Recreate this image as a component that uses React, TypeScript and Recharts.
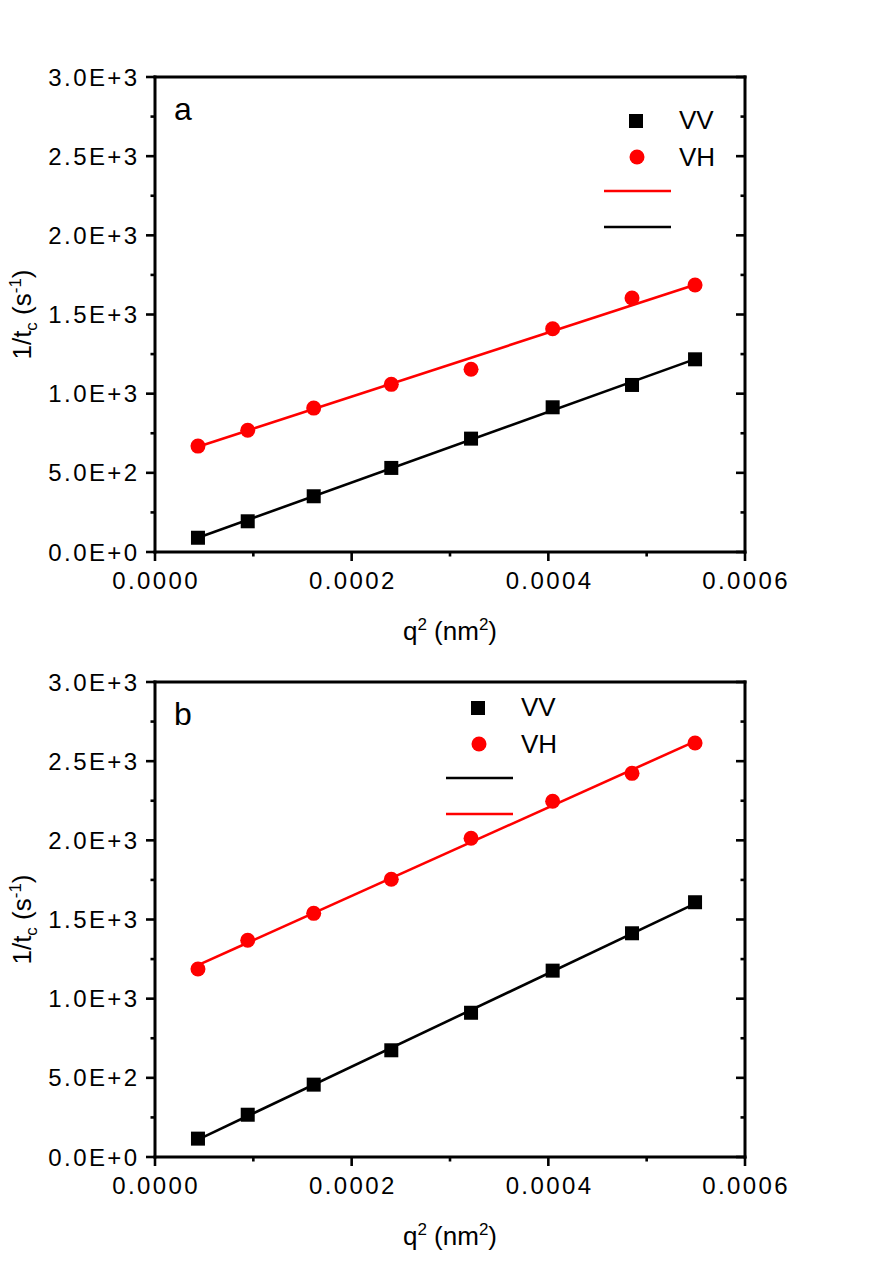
import React from 'react';
import { ComposedChart, XAxis, YAxis, Scatter, Line, Legend, Label } from 'recharts';

// ---- data ----
const qSquared = [4.37e-5, 9.43e-5, 1.614e-4, 2.403e-4, 3.214e-4, 4.044e-4, 4.851e-4, 5.492e-4];
const vvA = [90, 194, 352, 531, 716, 914, 1055, 1217];
const vhA = [669, 769, 909, 1059, 1154, 1410, 1604, 1686];
const vvB = [116, 267, 457, 674, 911, 1177, 1413, 1609];
const vhB = [1187, 1369, 1539, 1754, 2013, 2247, 2423, 2615];
const fitX = [4.37e-5, 5.492e-4];
const fitVvA = [90, 1218];
const fitVhA = [665, 1688];
const fitVvB = [110, 1600];
const fitVhB = [1212, 2625];
const xTicks = [0, 0.0001, 0.0002, 0.0003, 0.0004, 0.0005, 0.0006];
const yTicks = [0, 250, 500, 750, 1000, 1250, 1500, 1750, 2000, 2250, 2500, 2750, 3000];
const seriesNames = ['VV', 'VH'];

const FONT = '"Liberation Sans", Arial, sans-serif';
const RED = '#ff0000';
const BLACK = '#000000';

const toPoints = (xs: number[], ys: number[]) => xs.map((x, i) => ({ x, y: ys[i] }));

const isMajorX = (v: number) => Math.round(v / 0.0001) % 2 === 0;
const isMajorY = (v: number) => Math.round(v / 250) % 2 === 0;
const MAJOR = 9;
const MINOR = 4.5;
const TW = 2.6;

const BottomTick = (p: any) => {
  const { x, y, payload } = p;
  const major = isMajorX(payload.value);
  return (
    <g>
      <line x1={x} x2={x} y1={y} y2={y + (major ? MAJOR : MINOR)} stroke={BLACK} strokeWidth={TW} />
      {major && (
        <text x={x + 1.2} y={y + 37} textAnchor="middle" fontSize={24} fontFamily={FONT} letterSpacing={2.4} fill={BLACK} stroke="none">
          {Number(payload.value).toFixed(4)}
        </text>
      )}
    </g>
  );
};

// top axis has height 1, so its line sits at y + 1
const TopTick = (p: any) => {
  const { x, y, payload } = p;
  const major = isMajorX(payload.value);
  return <line x1={x} x2={x} y1={y} y2={y + (major ? MAJOR : MINOR)} stroke={BLACK} strokeWidth={TW} />;
};

const LeftTick = (p: any) => {
  const { x, y, payload } = p;
  const major = isMajorY(payload.value);
  return (
    <g>
      <line x1={x - (major ? MAJOR : MINOR)} x2={x} y1={y} y2={y} stroke={BLACK} strokeWidth={TW} />
      {major && (
        <text x={x - 15.5} y={y + 8.5} textAnchor="end" fontSize={24} fontFamily={FONT} letterSpacing={2.4} fill={BLACK} stroke="none">
          {Number(payload.value).toExponential(1).replace('e', 'E')}
        </text>
      )}
    </g>
  );
};

const RightTick = (p: any) => {
  const { x, y, payload } = p;
  const major = isMajorY(payload.value);
  return <line x1={x - (major ? MAJOR : MINOR)} x2={x} y1={y} y2={y} stroke={BLACK} strokeWidth={TW} />;
};

const YTitle = (props: any) => {
  const vb = props.viewBox || { y: 77, height: 475 };
  const cy = vb.y + vb.height / 2;
  return (
    <text transform={`translate(31, ${cy}) rotate(-90)`} textAnchor="middle" fontSize={26} fontFamily={FONT} fill={BLACK}>
      1/t<tspan fontSize={17} dy={6}>c</tspan>
      <tspan dy={-6}>{' (s'}</tspan>
      <tspan fontSize={17} dy={-10}>-1</tspan>
      <tspan dy={10}>)</tspan>
    </text>
  );
};

const XTitle = (props: any) => {
  const vb = props.viewBox || { x: 155, y: 552, width: 590 };
  const cx = vb.x + vb.width / 2;
  return (
    <text x={cx} y={vb.y + 88} textAnchor="middle" fontSize={26} fontFamily={FONT} fill={BLACK}>
      q<tspan fontSize={17} dy={-10}>2</tspan>
      <tspan dy={10}>{' (nm'}</tspan>
      <tspan fontSize={17} dy={-10}>2</tspan>
      <tspan dy={10}>)</tspan>
    </text>
  );
};

const makePanelTag = (tag: string) => (props: any) => {
  const vb = props.viewBox || { x: 155, y: 76, height: 1 };
  const top = vb.y + (vb.height || 0);
  return (
    <text x={vb.x + 19} y={top + 43} fontSize={32} fontFamily={FONT} fill={BLACK}>
      {tag}
    </text>
  );
};

const SquareShape = (p: any) => <rect x={p.cx - 7} y={p.cy - 7} width={14} height={14} fill={BLACK} />;
const CircleShape = (p: any) => <circle cx={p.cx} cy={p.cy} r={7.5} fill={RED} />;

const makeLegend = (lineColors: string[]) => () => (
  <svg width={200} height={150} style={{ overflow: 'visible', display: 'block' }}>
    <rect x={39} y={14} width={14} height={14} fill={BLACK} />
    <text x={89} y={29} fontSize={26} fontFamily={FONT} fill={BLACK}>{seriesNames[0]}</text>
    <circle cx={47} cy={57} r={7.5} fill={RED} />
    <text x={89} y={66} fontSize={26} fontFamily={FONT} fill={BLACK}>{seriesNames[1]}</text>
    <line x1={14} x2={81} y1={91} y2={91} stroke={lineColors[0]} strokeWidth={2.6} />
    <line x1={14} x2={81} y1={127} y2={127} stroke={lineColors[1]} strokeWidth={2.6} />
  </svg>
);

type PanelProps = {
  vv: number[];
  vh: number[];
  fitVv: number[];
  fitVh: number[];
  tag: string;
  legendPos: { left: number; top: number };
  legendColors: string[];
};

const Panel = ({ vv, vh, fitVv, fitVh, tag, legendPos, legendColors }: PanelProps) => {
  const axisLine = { stroke: BLACK, strokeWidth: 3, strokeLinecap: 'square' as const };
  const common = { stroke: BLACK, strokeWidth: 3 };
  return (
    <ComposedChart width={871} height={660} margin={{ top: 76, right: 125, bottom: 48, left: 55 }}>
      <XAxis
        xAxisId="b"
        dataKey="x"
        type="number"
        domain={[0, 0.0006]}
        ticks={xTicks}
        interval={0}
        allowDataOverflow
        height={60}
        tickSize={0}
        tickMargin={0}
        tickLine={false}
        axisLine={axisLine}
        tick={BottomTick}
        {...common}
      >
        <Label content={XTitle} />
      </XAxis>
      <XAxis
        xAxisId="t"
        orientation="top"
        type="number"
        domain={[0, 0.0006]}
        ticks={xTicks}
        interval={0}
        allowDataOverflow
        height={1}
        tickSize={0}
        tickMargin={0}
        tickLine={false}
        axisLine={axisLine}
        tick={TopTick}
        {...common}
      >
        <Label content={makePanelTag(tag)} />
      </XAxis>
      <YAxis
        yAxisId="l"
        dataKey="y"
        type="number"
        domain={[0, 3000]}
        ticks={yTicks}
        interval={0}
        allowDataOverflow
        width={100}
        tickSize={0}
        tickMargin={0}
        tickLine={false}
        axisLine={axisLine}
        tick={LeftTick}
        {...common}
      >
        <Label content={YTitle} />
      </YAxis>
      <YAxis
        yAxisId="r"
        orientation="right"
        type="number"
        domain={[0, 3000]}
        ticks={yTicks}
        interval={0}
        allowDataOverflow
        width={1}
        tickSize={0}
        tickMargin={0}
        tickLine={false}
        axisLine={axisLine}
        tick={RightTick}
        {...common}
      />
      <Line
        xAxisId="b"
        yAxisId="l"
        data={toPoints(fitX, fitVv)}
        dataKey="y"
        type="linear"
        stroke={BLACK}
        strokeWidth={2.6}
        dot={false}
        activeDot={false}
        isAnimationActive={false}
        legendType="none"
      />
      <Line
        xAxisId="b"
        yAxisId="l"
        data={toPoints(fitX, fitVh)}
        dataKey="y"
        type="linear"
        stroke={RED}
        strokeWidth={2.6}
        dot={false}
        activeDot={false}
        isAnimationActive={false}
        legendType="none"
      />
      <Scatter
        xAxisId="b"
        yAxisId="l"
        name="VV"
        data={toPoints(qSquared, vv)}
        dataKey="y"
        shape={SquareShape}
        isAnimationActive={false}
      />
      <Scatter
        xAxisId="b"
        yAxisId="l"
        name="VH"
        data={toPoints(qSquared, vh)}
        dataKey="y"
        shape={CircleShape}
        isAnimationActive={false}
      />
      <Legend
        layout="horizontal"
        verticalAlign="middle"
        align="center"
        content={makeLegend(legendColors)}
        wrapperStyle={{ position: 'absolute', left: legendPos.left, top: legendPos.top, width: 200, height: 150 }}
      />
    </ComposedChart>
  );
};

export default function App() {
  return (
    <div style={{ position: 'absolute', left: 0, top: 0, width: 871, height: 1271, background: '#fff' }}>
      <div style={{ position: 'absolute', left: 0, top: 0 }}>
        <Panel vv={vvA} vh={vhA} fitVv={fitVvA} fitVh={fitVhA} tag="a" legendPos={{ left: 590, top: 100 }} legendColors={[RED, BLACK]} />
      </div>
      <div style={{ position: 'absolute', left: 0, top: 605 }}>
        <Panel vv={vvB} vh={vhB} fitVv={fitVvB} fitVh={fitVhB} tag="b" legendPos={{ left: 432, top: 82 }} legendColors={[BLACK, RED]} />
      </div>
    </div>
  );
}
